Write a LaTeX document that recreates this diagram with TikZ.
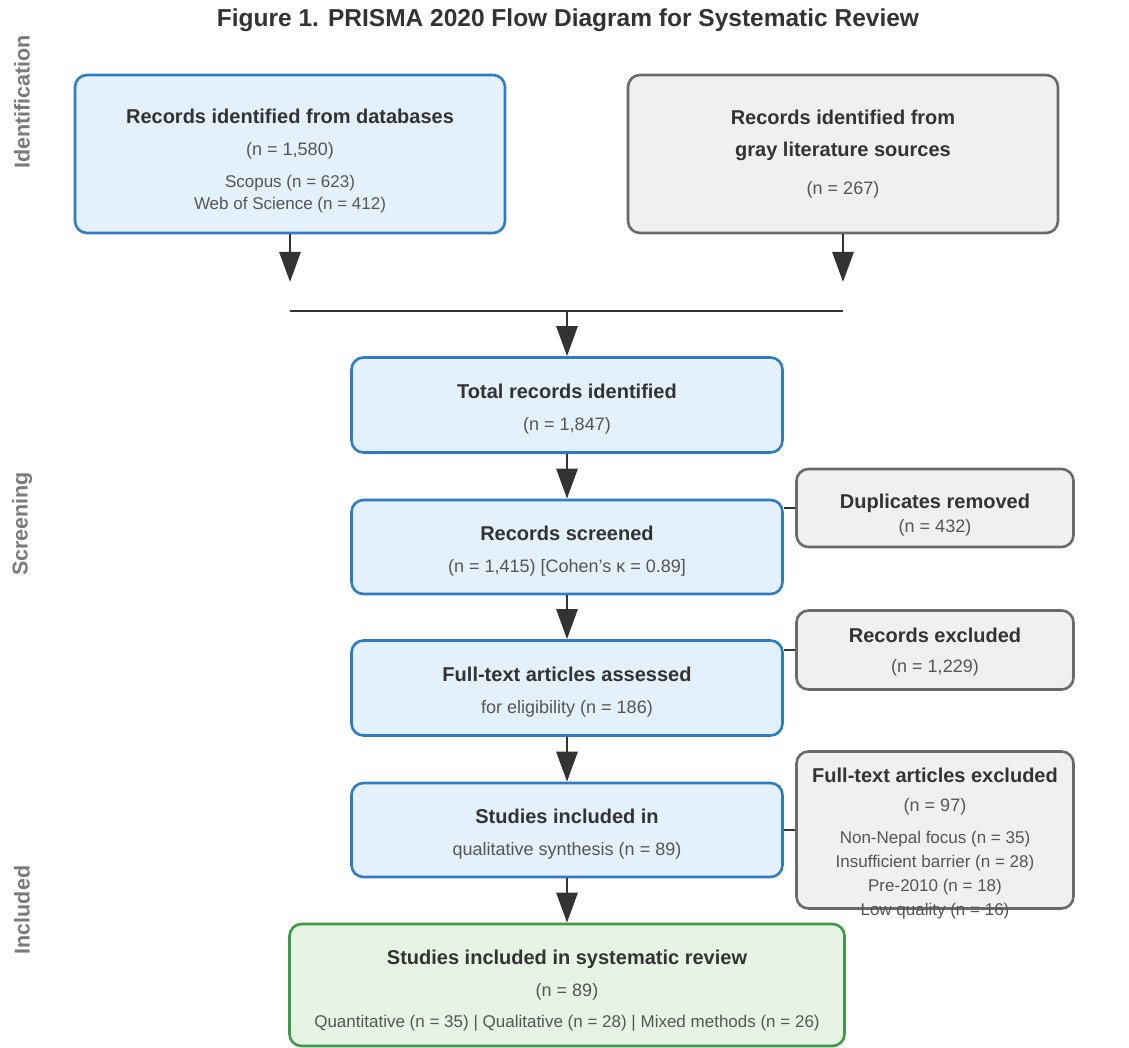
\documentclass[tikz,border=0pt]{standalone}
\usepackage{fontspec}
\setmainfont{Liberation Sans}
\usetikzlibrary{arrows.meta}

\definecolor{boxblue}{HTML}{E4F0FC}
\definecolor{lineblue}{HTML}{2F7CC5}
\definecolor{boxgray}{HTML}{F0F0F0}
\definecolor{linegray}{HTML}{6A6A6A}
\definecolor{boxgreen}{HTML}{E7F4E5}
\definecolor{linegreen}{HTML}{3D9A48}
\definecolor{ink}{HTML}{333333}
\definecolor{subink}{HTML}{555555}
\definecolor{phase}{HTML}{7A7A7A}

\newcommand{\hd}{\fontsize{20}{24}\selectfont\bfseries\color{ink}}
\newcommand{\sm}{\fontsize{17}{20}\selectfont}
\newcommand{\pad}[1]{\rule{0pt}{#1}}% pushes the text block down a little

\tikzset{
  box/.style={rounded corners=12pt, line width=2.6pt, align=center,
    text=subink, font=\fontsize{18}{32}\selectfont, inner sep=0pt},
  bluebox/.style={box, draw=lineblue, fill=boxblue},
  graybox/.style={box, draw=linegray, fill=boxgray},
  greenbox/.style={box, draw=linegreen, fill=boxgreen},
  arr/.style={draw=ink, line width=2.8pt, -{Triangle[length=30pt,width=21pt]}},
  link/.style={draw=ink, line width=2.8pt},
  phaselabel/.style={rotate=90, text=phase, font=\fontsize{21.5}{24}\selectfont\bfseries},
}

\begin{document}
\begin{tikzpicture}[x=1pt,y=-1pt]
\useasboundingbox[fill=white] (0,0) rectangle (1129,1048);

% title and phases
\node[text=ink, font=\fontsize{24.5}{28}\selectfont\bfseries] (title) at (568,20)
  {Figure 1. PRISMA 2020 Flow Diagram for Systematic Review};
\node[phaselabel] (ident) at (22,102) {Identification};
\node[phaselabel] (screen) at (22,524) {Screening};
\node[phaselabel] (incl) at (22,910) {Included};

% identification
\node[bluebox, minimum width=430, minimum height=158] (db) at (290,154)
  {{\hd\pad{29pt}Records identified from databases}\\ (n = 1,580)\\
   {\sm Scopus (n = 623)}\\[-10pt] {\sm Web of Science (n = 412)}};
\node[graybox, minimum width=430, minimum height=158] (grey) at (843,154)
  {{\hd Records identified from}\\ {\hd gray literature sources}\\[6pt] (n = 267)};

\coordinate (dbend) at (290,282);
\coordinate (greyend) at (843,282);
\coordinate (mergeL) at (290,311);
\coordinate (mergeR) at (843,311);
\coordinate (mergeC) at (567,311);

% main column
\node[bluebox, minimum width=431, minimum height=95] (total) at (567,405)
  {{\hd\pad{23pt}Total records identified}\\ (n = 1,847)};
\node[bluebox, minimum width=431, minimum height=94] (screened) at (567,547)
  {{\hd\pad{23pt}Records screened}\\ (n = 1,415) [Cohen's κ = 0.89]};
\node[bluebox, minimum width=431, minimum height=95] (assessed) at (567,688)
  {{\hd\pad{23pt}Full-text articles assessed}\\ for eligibility (n = 186)};
\node[bluebox, minimum width=431, minimum height=94] (qual) at (567,830)
  {{\hd\pad{23pt}Studies included in}\\ qualitative synthesis (n = 89)};
\node[greenbox, minimum width=555, minimum height=122] (final) at (567,985)
  {{\hd\pad{25pt}Studies included in systematic review}\\ (n = 89)\\[-1pt]
   {\sm Quantitative (n = 35) | Qualitative (n = 28) | Mixed methods (n = 26)}};

% exclusions
\node[graybox, minimum width=277, minimum height=78] (dup) at (935,508)
  {{\hd\pad{29pt}Duplicates removed}\\[-8pt] (n = 432)};
\node[graybox, minimum width=277, minimum height=79] (recex) at (935,650)
  {{\hd\pad{19pt}Records excluded}\\[-2pt] (n = 1,229)};
\node[graybox, minimum width=277, minimum height=157] (ftex) at (935,830) {};
\node[align=center, text=subink, font=\fontsize{18}{32}\selectfont, inner sep=0pt]
  (ftext) at ([yshift=-14pt]ftex.center)
  {{\hd Full-text articles excluded}\\[-3pt] (n = 97)\\
   {\sm Non-Nepal focus (n = 35)}\\[-8pt] {\sm Insufficient barrier (n = 28)}\\[-8pt]
   {\sm Pre-2010 (n = 18)}\\[-8pt] {\sm Low quality (n = 16)}};

% connectors
\draw[arr] (db.south) -- (dbend);
\draw[arr] (grey.south) -- (greyend);
\draw[link] (mergeL) -- (mergeR);
\draw[arr] (mergeC) -- (total.north);
\draw[arr] (total) -- (screened);
\draw[arr] (screened) -- (assessed);
\draw[arr] (assessed) -- (qual);
\draw[arr] (qual) -- (final);
\draw[link] (dup.west) -- (dup.west -| screened.east);
\draw[link] (recex.west) -- (recex.west -| assessed.east);
\draw[link] (ftex.west) -- (qual.east);
\end{tikzpicture}
\end{document}
